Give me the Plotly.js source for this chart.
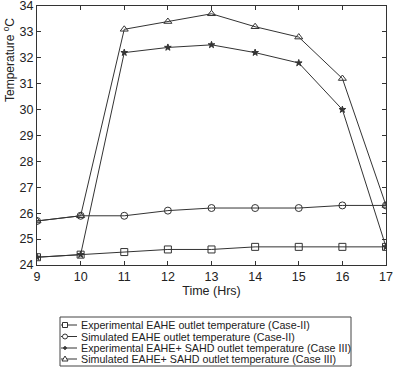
<!DOCTYPE html>
<html><head><meta charset="utf-8">
<script src="https://cdn.plot.ly/plotly-3.0.1.min.js"></script>
<style>html,body{margin:0;padding:0;background:#fff}#c{width:393px;height:368px}</style>
</head><body><div id="c"></div>
<script>
const hours = [9, 10, 11, 12, 13, 14, 15, 16, 17];
const expEAHE = [24.3, 24.4, 24.5, 24.6, 24.6, 24.7, 24.7, 24.7, 24.7];
const simEAHE = [25.7, 25.9, 25.9, 26.1, 26.2, 26.2, 26.2, 26.3, 26.3];
const expCase3 = [24.3, 24.4, 32.2, 32.4, 32.5, 32.2, 31.8, 30.0, 24.7];
const simCase3 = [25.7, 25.9, 33.1, 33.4, 33.7, 33.2, 32.8, 31.2, 26.3];
const names = [
  "Experimental EAHE outlet temperature (Case-II)",
  "Simulated EAHE outlet temperature (Case-II)",
  "Experimental EAHE+ SAHD outlet temperature (Case III)",
  "Simulated EAHE+ SAHD outlet temperature (Case III)"
];
const symbols = ["square-open", "circle-open", "star", "triangle-up-open"];
const sizes = [7, 7, 5, 7];
const series = [expEAHE, simEAHE, expCase3, simCase3];
const col = "#333333";
const FONT = "Liberation Sans, Arial, sans-serif";

const data = series.map((y, i) => ({
  x: hours, y: y, name: names[i], type: "scatter", mode: "lines+markers",
  line: {color: col, width: 1},
  marker: {symbol: symbols[i], size: sizes[i], color: col, line: {color: col, width: 1}}
}));

// geometry helpers (plot area: left 37, right 386, top 6, bottom 265)
const L = 37, R = 386, T = 6, B = 265;
const px = v => (v - L) / (R - L);
const py = v => (B - v) / (B - T);

// custom compact legend
const shapes = [{type: "rect", xref: "paper", yref: "paper",
  x0: px(60), x1: px(351), y0: py(317), y1: py(366),
  line: {color: "#444", width: 1}, fillcolor: "#fff", layer: "above"}];
const annotations = [];
const rows = [325, 336.5, 348, 359];
rows.forEach((ry, i) => {
  shapes.push({type: "line", xref: "paper", yref: "paper",
    x0: px(61), x1: px(77), y0: py(ry), y1: py(ry), line: {color: col, width: 1}});
  const mx = 65, s = 2.5;
  if (i === 0) shapes.push({type: "rect", xref: "paper", yref: "paper",
    x0: px(mx - s), x1: px(mx + s), y0: py(ry + s), y1: py(ry - s), line: {color: col, width: 1}, fillcolor: "#fff"});
  if (i === 1) shapes.push({type: "circle", xref: "paper", yref: "paper",
    x0: px(mx - s), x1: px(mx + s), y0: py(ry + s), y1: py(ry - s), line: {color: col, width: 1}, fillcolor: "#fff"});
  if (i === 2) shapes.push({type: "path", xref: "paper", yref: "paper",
    path: `M${px(mx-2)},${py(ry)} L${px(mx+2)},${py(ry)} M${px(mx)},${py(ry-2)} L${px(mx)},${py(ry+2)}`,
    line: {color: col, width: 1.5}});
  if (i === 3) shapes.push({type: "path", xref: "paper", yref: "paper",
    path: `M${px(mx-3)},${py(ry+2)} L${px(mx+3)},${py(ry+2)} L${px(mx)},${py(ry-3)} Z`,
    line: {color: col, width: 1}, fillcolor: "#fff"});
  annotations.push({xref: "paper", yref: "paper", x: px(79), y: py(ry),
    xanchor: "left", yanchor: "middle", showarrow: false, text: names[i],
    font: {family: FONT, size: 10.7, color: "#222"}});
});
// y title placed high like the reference
annotations.push({xref: "paper", yref: "paper", x: px(9), y: py(60),
  xanchor: "center", yanchor: "middle", showarrow: false, textangle: -90,
  text: "Temperature <sup>o</sup>C", font: {family: FONT, size: 12, color: "#222"}});

const ax = {showgrid: false, zeroline: false, showline: true, mirror: "ticks",
  linecolor: "#333", linewidth: 1, ticks: "inside", ticklen: 4, tickcolor: "#333",
  ticklabeloverflow: "allow",
  tickfont: {family: FONT, size: 12.5, color: "#222"}};
const layout = {
  width: 393, height: 368,
  margin: {l: L, r: 393 - R, t: T, b: 368 - B},
  paper_bgcolor: "#fff", plot_bgcolor: "#fff",
  font: {family: FONT, color: "#222"},
  xaxis: Object.assign({}, ax, {range: [9, 17], dtick: 1, automargin: false,
    title: {text: "Time (Hrs)", font: {size: 12.5}, standoff: 3}}),
  yaxis: Object.assign({}, ax, {range: [24, 34], dtick: 1, automargin: false}),
  showlegend: false,
  shapes: shapes,
  annotations: annotations
};
Plotly.newPlot("c", data, layout, {displayModeBar: false, staticPlot: true});
</script></body></html>
